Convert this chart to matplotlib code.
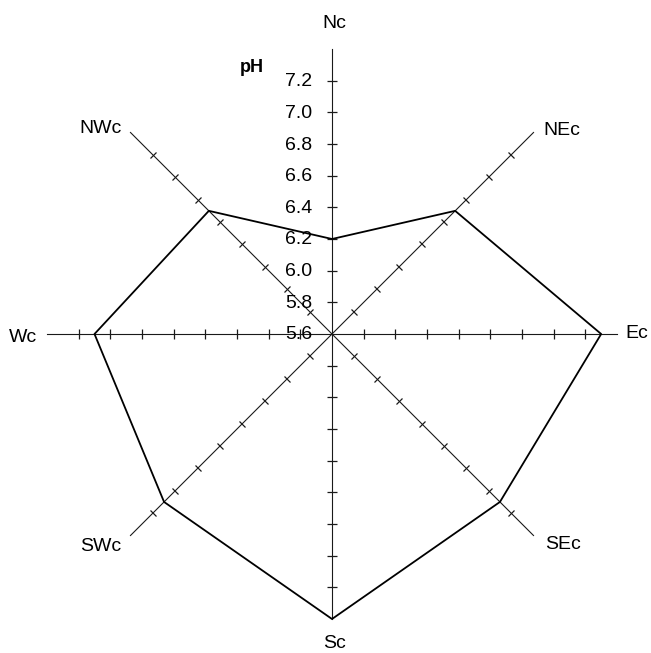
"""
    plot.py

    Radar chart of pH for the eight compass directions.
"""

import numpy as np
import matplotlib

matplotlib.use("Agg")
import matplotlib.pyplot as plt
from matplotlib.markers import MarkerStyle
from matplotlib.transforms import Affine2D

plt.rcParams["font.family"] = ["Liberation Sans", "DejaVu Sans"]

directions = ["Nc", "NEc", "Ec", "SEc", "Sc", "SWc", "Wc", "NWc"]
bearings = [0, 45, 90, 135, 180, 225, 270, 315]
ph_values = [6.2, 6.7, 7.3, 7.1, 7.4, 7.1, 7.1, 6.7]
tick_values = [5.8, 6.0, 6.2, 6.4, 6.6, 6.8, 7.0, 7.2]
tick_labels = ["5.6", "5.8", "6.0", "6.2", "6.4", "6.6", "6.8", "7.0", "7.2"]
r_min, r_max = 5.6, 7.4

# label placement (pixels from the end of each axis)
label_style = {
    "Nc": ((2, 25), "center"),
    "NEc": ((10, 2), "left"),
    "Ec": ((8, 0), "left"),
    "SEc": ((12, -9), "left"),
    "Sc": ((2, -24), "center"),
    "SWc": ((-9, -11), "right"),
    "Wc": ((-10, -3), "right"),
    "NWc": ((-9, 4), "right"),
}

if __name__ == "__main__":

    fig = plt.figure(figsize=(6.51, 6.53), dpi=100)
    ax = fig.add_axes([47 / 651, 34 / 653, 570 / 651, 570 / 653], projection="polar")
    ax.set_theta_zero_location("N")
    ax.set_theta_direction(-1)
    ax.set_ylim(r_min, r_max)
    ax.axis("off")

    theta = np.deg2rad(bearings)

    # spokes with small cross ticks
    for name, deg, th in zip(directions, bearings, theta):
        ax.plot([th, th], [r_min, r_max], color="#1a1a1a", lw=0.8, clip_on=False)
        tick = MarkerStyle("|", transform=Affine2D().rotate_deg(90 - deg))
        ax.plot(
            [th] * len(tick_values),
            tick_values,
            ls="none",
            marker=tick,
            ms=7,
            mew=0.9,
            color="#1a1a1a",
            clip_on=False,
        )
        offset, ha = label_style[name]
        ax.annotate(
            name,
            xy=(th, r_max),
            xytext=offset,
            textcoords="offset pixels",
            ha=ha,
            va="center",
            fontsize=14,
            annotation_clip=False,
        )

    # value polygon
    ax.plot(
        np.append(theta, theta[0]),
        ph_values + ph_values[:1],
        color="black",
        lw=1.3,
        clip_on=False,
    )

    # scale labels on the north spoke
    for lab in tick_labels:
        ax.annotate(
            lab,
            xy=(0, float(lab)),
            xytext=(-20, -1),
            textcoords="offset pixels",
            ha="right",
            va="center",
            fontsize=14,
            annotation_clip=False,
        )

    ax.annotate(
        "pH",
        xy=(0, r_max),
        xytext=(-80, -19),
        textcoords="offset pixels",
        ha="center",
        va="center",
        fontsize=13,
        fontweight="bold",
        annotation_clip=False,
    )

    plt.savefig("out.png", dpi=100)
